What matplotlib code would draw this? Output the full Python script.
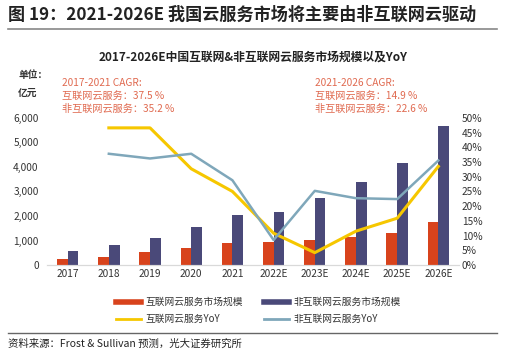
import numpy as np
import matplotlib.pyplot as plt
from matplotlib.lines import Line2D

plt.rcParams['font.family'] = ['Noto Sans CJK SC', 'DejaVu Sans']

years = ["2017", "2018", "2019", "2020", "2021", "2022E", "2023E", "2024E", "2025E", "2026E"]
internet_size = [230, 340, 520, 680, 890, 950, 1010, 1160, 1300, 1770]
non_internet_size = [590, 820, 1120, 1570, 2020, 2180, 2750, 3380, 4160, 5660]
internet_yoy = [np.nan, 46.6, 46.6, 32.7, 25.0, 10.8, 4.2, 11.5, 15.9, 33.5]
non_internet_yoy = [np.nan, 37.8, 36.2, 37.8, 28.8, 8.5, 25.2, 22.7, 22.4, 35.5]

c_red = "#D8431C"
c_navy = "#4A4979"
c_yellow = "#F6C700"
c_blue = "#7FA7BA"
c_note = "#E06A50"
c_text = "#333333"

fig = plt.figure(figsize=(5.06, 3.55), dpi=100)
ax = fig.add_axes([0.093, 0.2535, 0.814, 0.4145])
ax2 = ax.twinx()

x = np.arange(len(years))
w = 0.26
ax.bar(x - 0.13, internet_size, width=w, color=c_red, zorder=2)
ax.bar(x + 0.13, non_internet_size, width=w, color=c_navy, zorder=2)
ax2.plot(x, internet_yoy, color=c_yellow, lw=2.2)
ax2.plot(x, non_internet_yoy, color=c_blue, lw=1.8)

ax.set_xlim(-0.5, len(years) - 0.5)
ax.set_ylim(0, 6000)
ax2.set_ylim(0, 50)
ax.set_xticks(x)
ax.set_xticklabels(years)
ax.set_yticks(range(0, 6001, 1000))
ax.set_yticklabels([f"{v:,}" for v in range(0, 6001, 1000)])
ax2.set_yticks(range(0, 51, 5))
ax2.set_yticklabels([f"{v}%" for v in range(0, 51, 5)])

for a in (ax, ax2):
    for s in ("top", "right", "left"):
        a.spines[s].set_visible(False)
    a.spines["bottom"].set_color("#D9D9D9")
    a.tick_params(length=0, labelsize=7.3, colors=c_text)
ax.tick_params(axis="y", pad=6)
ax2.tick_params(axis="y", pad=2)
ax.tick_params(axis="x", pad=3)

# header / footer
fig.text(0.016, 0.958, "图 19：2021-2026E 我国云服务市场将主要由非互联网云驱动",
         fontsize=12.3, fontweight="bold", color="#222222", va="center")
fig.add_artist(Line2D([0.016, 0.982], [0.918, 0.918], color="#888888", lw=1.2))
fig.text(0.5, 0.838, "2017-2026E中国互联网&非互联网云服务市场规模以及YoY",
         fontsize=8.5, fontweight="bold", color="#222222", ha="center", va="center")
fig.text(0.036, 0.789, "单位：", fontsize=7, fontweight="bold", color=c_text, va="center")
fig.text(0.036, 0.738, "亿元", fontsize=7, fontweight="bold", color=c_text, va="center")

fig.text(0.122, 0.73, "2017-2021 CAGR:\n互联网云服务：37.5 %\n非互联网云服务：35.2 %",
         fontsize=7.3, color=c_note, va="center", linespacing=1.4)
fig.text(0.622, 0.73, "2021-2026 CAGR:\n互联网云服务：14.9 %\n非互联网云服务：22.6 %",
         fontsize=7.3, color=c_note, va="center", linespacing=1.4)

handles = [Line2D([], [], color=c_red, lw=4),
           Line2D([], [], color=c_yellow, lw=2),
           Line2D([], [], color=c_navy, lw=4),
           Line2D([], [], color=c_blue, lw=2)]
labels = ["互联网云服务市场规模", "互联网云服务YoY", "非互联网云服务市场规模", "非互联网云服务YoY"]
fig.legend(handles, labels, ncol=2, loc="center", bbox_to_anchor=(0.51, 0.125),
           frameon=False, fontsize=7, handlelength=2.6, columnspacing=2.2,
           labelspacing=0.7, handletextpad=0.4, labelcolor=c_text)

fig.add_artist(Line2D([0.016, 0.982], [0.062, 0.062], color="#666666", lw=1))
fig.text(0.016, 0.033, "资料来源：Frost & Sullivan 预测，光大证券研究所",
         fontsize=7.5, color="#222222", va="center")

fig.savefig("out.png", dpi=100)
